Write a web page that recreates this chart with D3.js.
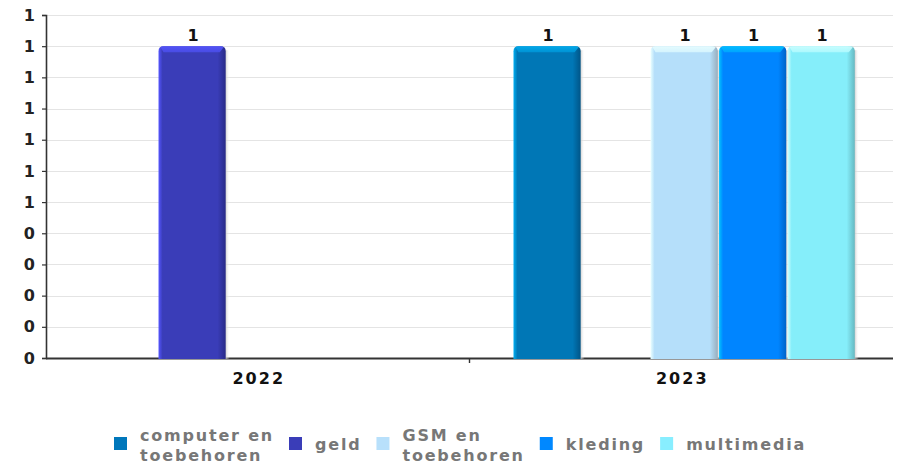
<!DOCTYPE html>
<html>
<head>
<meta charset="utf-8">
<script src="https://cdn.jsdelivr.net/npm/d3@7/dist/d3.min.js"></script>
<style>
  html, body { margin: 0; padding: 0; background: #fff; }
  svg { display: block; font-family: "DejaVu Sans", sans-serif; }
</style>
</head>
<body>
<svg id="chart" width="903" height="466"></svg>
<script>
// ---- data ----
const years = ["2022", "2023"];
const seriesNames = ["computer en toebehoren", "geld", "GSM en toebehoren", "kleding", "multimedia"];
const legendLines = [["computer en", "toebehoren"], ["geld"], ["GSM en", "toebehoren"], ["kleding"], ["multimedia"]];
const computerValues = [0, 1];
const geldValues = [1, 0];
const gsmValues = [0, 1];
const kledingValues = [0, 1];
const multimediaValues = [0, 1];
const yTickValues = [0, 0.1, 0.2, 0.3, 0.4, 0.5, 0.6, 0.7, 0.8, 0.9, 1.0, 1.1];
const yTickLabels = ["0", "0", "0", "0", "0", "1", "1", "1", "1", "1", "1", "1"];

// ---- styles ----
const palette = [
  { base: "#0077b6", light: "#00aef0", dark: "#005588", top: "#0096d8", legend: "#0077bb" },
  { base: "#3a3db8", light: "#5555ff", dark: "#282a88", top: "#4a4ee8", legend: "#3a3db8" },
  { base: "#b5dffa", light: "#eaffff", dark: "#98aebd", top: "#d8f6ff", legend: "#b8e0fb" },
  { base: "#0085ff", light: "#00c4ff", dark: "#0063c8", top: "#00a8ff", legend: "#0088ff" },
  { base: "#85eefa", light: "#d0ffff", dark: "#66b9c2", top: "#b0faff", legend: "#88eeff" }
];

const allValues = [computerValues, geldValues, gsmValues, kledingValues, multimediaValues];
const table = [];
years.forEach((yr, i) => {
  seriesNames.forEach((s, j) => {
    table.push({ year: yr, series: s, si: j, value: allValues[j][i] });
  });
});

const svg = d3.select("#chart");
const plotLeft = 46, plotRight = 893, plotTop = 15, plotBottom = 358;

const x0 = d3.scaleBand().domain(years).range([plotLeft, plotRight]).padding(0);
const x1 = d3.scaleBand().domain(seriesNames).range([0, x0.bandwidth()])
  .paddingInner(0.02).paddingOuter(0.6).align(0.535);
const y = d3.scaleLinear().domain([0, 1.1]).range([plotBottom, plotTop]);

// gradients
const defs = svg.append("defs");
palette.forEach((c, i) => {
  const g = defs.append("linearGradient").attr("id", "bar" + i)
    .attr("x1", "0").attr("x2", "1").attr("y1", "0").attr("y2", "0");
  g.append("stop").attr("offset", "0").attr("stop-color", c.light);
  g.append("stop").attr("offset", "0.06").attr("stop-color", c.base);
  g.append("stop").attr("offset", "0.88").attr("stop-color", c.base);
  g.append("stop").attr("offset", "1").attr("stop-color", c.dark);
  const t = defs.append("linearGradient").attr("id", "top" + i)
    .attr("x1", "0").attr("x2", "0").attr("y1", "0").attr("y2", "1");
  t.append("stop").attr("offset", "0").attr("stop-color", c.light);
  t.append("stop").attr("offset", "1").attr("stop-color", c.top);
});
const sh = defs.append("linearGradient").attr("id", "shadow")
  .attr("x1", "0").attr("x2", "1").attr("y1", "0").attr("y2", "0");
sh.append("stop").attr("offset", "0").attr("stop-color", "#b8b8b8");
sh.append("stop").attr("offset", "1").attr("stop-color", "#ffffff").attr("stop-opacity", 0);

// grid
svg.append("g").selectAll("line").data(yTickValues).join("line")
  .attr("x1", plotLeft).attr("x2", plotRight)
  .attr("y1", d => Math.round(y(d)) + 0.5).attr("y2", d => Math.round(y(d)) + 0.5)
  .attr("stroke", "#e4e4e4").attr("stroke-width", 1);

// y axis
const yAxis = d3.axisLeft(y).tickValues(yTickValues)
  .tickFormat((d, i) => yTickLabels[i]).tickSize(4).tickPadding(7);
const yg = svg.append("g").attr("transform", `translate(${plotLeft},0)`).call(yAxis);
yg.select(".domain").attr("stroke", "#333").attr("stroke-width", 1.6);
yg.selectAll(".tick line").attr("stroke", "#333").attr("stroke-width", 1.2);
yg.selectAll(".tick text").attr("font-family", "DejaVu Sans").attr("font-weight", "bold")
  .attr("font-size", 16).attr("fill", "#222");

// x axis line + ticks
svg.append("line").attr("x1", plotLeft).attr("x2", plotRight)
  .attr("y1", plotBottom + 0.5).attr("y2", plotBottom + 0.5)
  .attr("stroke", "#333").attr("stroke-width", 1.8);
const bounds = years.map(d => x0(d)).concat([x0(years[years.length - 1]) + x0.bandwidth()]);
svg.append("g").selectAll("line").data(bounds.slice(1, -1)).join("line")
  .attr("x1", d => d).attr("x2", d => d)
  .attr("y1", plotBottom).attr("y2", plotBottom + 5)
  .attr("stroke", "#333").attr("stroke-width", 1.4);
svg.append("g").selectAll("text").data(years).join("text")
  .attr("x", d => x0(d) + x0.bandwidth() / 2 + 1)
  .attr("y", plotBottom + 26)
  .attr("text-anchor", "middle")
  .attr("font-weight", "bold").attr("font-size", 16).attr("letter-spacing", 2)
  .attr("fill", "#111").text(d => d);

// bars
const bars = table.filter(d => d.value > 0);
const bg = svg.append("g").selectAll("g").data(bars).join("g");
bg.each(function (d) {
  const g = d3.select(this);
  const bx = x0(d.year) + x1(d.series);
  const bw = x1.bandwidth();
  const by = y(d.value);
  const bh = plotBottom + 1 - by;
  const r = 5;
  // shadow
  g.append("rect").attr("x", bx + bw - 1).attr("y", by + 4)
    .attr("width", 5).attr("height", bh - 4).attr("fill", "url(#shadow)");
  // body
  g.append("path")
    .attr("d", `M${bx},${by + bh} L${bx},${by + r} Q${bx},${by} ${bx + r},${by} L${bx + bw - r},${by} Q${bx + bw},${by} ${bx + bw},${by + r} L${bx + bw},${by + bh} Z`)
    .attr("fill", `url(#bar${d.si})`);
  // top bevel
  g.append("path")
    .attr("d", `M${bx + 2},${by + 1} Q${bx + 3},${by} ${bx + r},${by} L${bx + bw - r},${by} Q${bx + bw - 3},${by} ${bx + bw - 2},${by + 1} L${bx + bw - 6},${by + 6} L${bx + 5},${by + 6} Z`)
    .attr("fill", `url(#top${d.si})`).attr("opacity", 0.9);
  // value label
  g.append("text").attr("x", bx + bw / 2 + 1).attr("y", by - 5)
    .attr("text-anchor", "middle").attr("font-weight", "bold").attr("font-size", 16)
    .attr("fill", "#111").text(Math.round(d.value));
});

// legend
const lg = svg.append("g");
let cx = 0;
const sq = 13, gapSqText = 13, gapItem = 15;
seriesNames.forEach((s, i) => {
  const it = lg.append("g");
  it.append("rect").attr("x", cx).attr("y", 437).attr("width", sq).attr("height", sq)
    .attr("fill", palette[i].legend);
  const lines = legendLines[i];
  const t = it.append("text").attr("font-weight", "bold").attr("font-size", 16)
    .attr("letter-spacing", 1.8).attr("fill", "#777");
  let maxW = 0;
  lines.forEach((ln, k) => {
    const base = lines.length === 1 ? 450 : 441 + k * 20;
    const ts = t.append("tspan").attr("x", cx + sq + gapSqText).attr("y", base).text(ln);
    maxW = Math.max(maxW, ts.node().getComputedTextLength());
  });
  cx += sq + gapSqText + maxW + gapItem;
});
const totalW = cx - gapItem;
lg.attr("transform", `translate(${Math.round(460 - totalW / 2)},0)`);
</script>
</body>
</html>
